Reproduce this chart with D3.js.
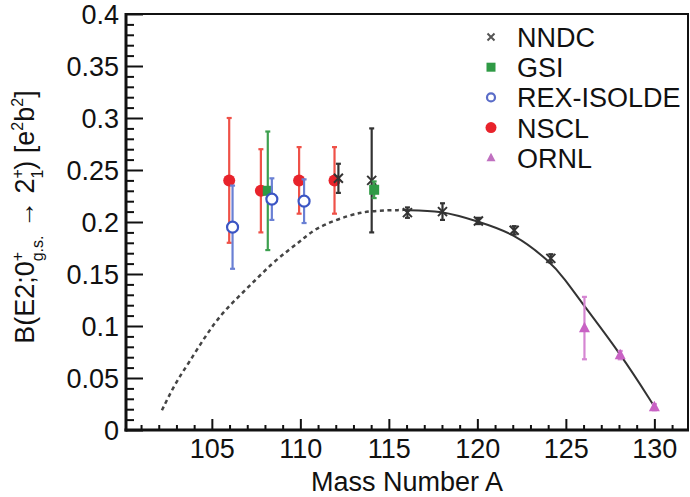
<!DOCTYPE html>
<meta charset="utf-8">
<style>
body { margin: 0; background: #fff; }
svg { display: block; }
text { font-family: "Liberation Sans", Arial, sans-serif; fill: #111; }
.axis text { font-size: 27px; }
.axis line { stroke: #111; stroke-width: 2; }
</style>
<body>
<div id="chart"><svg width="690" height="497"></svg></div>
<script src="https://cdn.jsdelivr.net/npm/d3@7"></script>
<script>

// measured points (mass number A, B(E2) in e2b2, error)
var nndcA   = [112.15, 114.03, 116.05, 118.03, 120.06, 122.08, 124.15];
var nndcB   = [0.242, 0.240, 0.209, 0.210, 0.201, 0.192, 0.165];
var nndcErr = [0.014, 0.050, 0.005, 0.008, 0.003, 0.004, 0.004];

var gsiA   = [108.16, 114.17];
var gsiB   = [0.230, 0.231];
var gsiErr = [0.057, 0.008];

var rexA   = [106.17, 108.39, 110.21];
var rexB   = [0.195, 0.222, 0.220];
var rexErr = [0.040, 0.020, 0.021];

var nsclA   = [105.98, 107.77, 109.93, 111.93];
var nsclB   = [0.240, 0.230, 0.240, 0.240];
var nsclErr = [0.060, 0.040, 0.032, 0.032];

var ornlA   = [126.05, 128.07, 130.0];
var ornlB   = [0.098, 0.072, 0.022];
var ornlErr = [0.030, 0.004, 0.003];

// calculation
var dashA = [102.18, 102.93, 103.68, 104.62, 105.56, 106.5, 107.45, 108.39, 109.33, 110.18, 110.93, 112.8, 114.0, 115.8];
var dashB = [0.019, 0.045, 0.064, 0.090, 0.112, 0.128, 0.144, 0.160, 0.173, 0.184, 0.195, 0.207, 0.211, 0.2115];
var solidA = [115.8, 118.0, 120.06, 122.08, 124.1, 124.9, 126.0, 128.07, 129.95, 130.0];
var solidB = [0.2115, 0.211, 0.2003, 0.189, 0.162, 0.146, 0.120, 0.0737, 0.024, 0.0224];

var xMajor = [105, 110, 115, 120, 125, 130];
var yMajor = [0, 0.05, 0.1, 0.15, 0.2, 0.25, 0.3, 0.35, 0.4];

var legendNames = ["NNDC", "GSI", "REX-ISOLDE", "NSCL", "ORNL"];

var pLeft = 126, pRight = 688, pTop = 14, pBottom = 430;

var svg = d3.select("#chart svg");

var x = d3.scaleLinear().domain([100.15, 131.9]).range([pLeft, pRight]);
var y = d3.scaleLinear().domain([0, 0.4]).range([pBottom, pTop]);

function zip(a, b, e) {
  return a.map(function(d, i) { return {a: d, b: b[i], e: e ? e[i] : 0}; });
}

// frame
svg.append("rect")
    .attr("x", pLeft).attr("y", pTop)
    .attr("width", pRight - pLeft).attr("height", pBottom - pTop)
    .attr("fill", "none").attr("stroke", "#111").attr("stroke-width", 2);

// x axis: minor + major ticks pointing inward
var xMinor = d3.range(101, 132).filter(function(d) { return d % 5 !== 0; });
svg.append("g").attr("class", "axis")
    .attr("transform", "translate(0," + pBottom + ")")
    .call(d3.axisBottom(x).tickValues(xMinor).tickSize(-5).tickFormat(""))
    .call(function(g) { g.select(".domain").remove(); });
svg.append("g").attr("class", "axis")
    .attr("transform", "translate(0," + pBottom + ")")
    .call(d3.axisBottom(x).tickValues(xMajor).tickSize(-11).tickPadding(9).tickFormat(d3.format("d")))
    .call(function(g) { g.select(".domain").remove(); });

// y axis
var yMinor = d3.range(1, 40).filter(function(d) { return d % 5 !== 0; }).map(function(d) { return d / 100; });
svg.append("g").attr("class", "axis")
    .attr("transform", "translate(" + pLeft + ",0)")
    .call(d3.axisLeft(y).tickValues(yMinor).tickSize(-8).tickFormat(""))
    .call(function(g) { g.select(".domain").remove(); });
svg.append("g").attr("class", "axis")
    .attr("transform", "translate(" + pLeft + ",0)")
    .call(d3.axisLeft(y).tickValues(yMajor).tickSize(-17).tickPadding(7)
      .tickFormat(function(d) { return d === 0 ? "0" : String(+d.toFixed(2)); }))
    .call(function(g) { g.select(".domain").remove(); g.selectAll("text").attr("dy", "0.34em"); });

svg.append("line").attr("x1", pLeft).attr("x2", pLeft).attr("y1", pTop - 1).attr("y2", pBottom + 1.5)
    .attr("stroke", "#111").attr("stroke-width", 3);
svg.append("line").attr("x1", pLeft - 1.5).attr("x2", pRight + 1).attr("y1", pBottom).attr("y2", pBottom)
    .attr("stroke", "#111").attr("stroke-width", 3);

// axis titles
svg.append("text")
    .attr("x", (pLeft + pRight) / 2).attr("y", 491)
    .attr("text-anchor", "middle").style("font-size", "27px")
    .text("Mass Number A");

var yl = svg.append("text")
    .attr("transform", "translate(34,217) rotate(-90)")
    .attr("text-anchor", "middle").style("font-size", "27px");
yl.append("tspan").text("B(E2;0");
yl.append("tspan").attr("dy", -11).style("font-size", "16px").text("+");
yl.append("tspan").attr("dx", -9.5).attr("dy", 20).style("font-size", "16px").text("g.s.");
yl.append("tspan").attr("dy", -9).text(" \u2192 2");
yl.append("tspan").attr("dy", -11).style("font-size", "16px").text("+");
yl.append("tspan").attr("dx", -9.5).attr("dy", 20).style("font-size", "16px").text("1");
yl.append("tspan").attr("dy", -9).text(") [e");
yl.append("tspan").attr("dy", -11).style("font-size", "16px").text("2");
yl.append("tspan").attr("dy", 11).text("b");
yl.append("tspan").attr("dy", -11).style("font-size", "16px").text("2");
yl.append("tspan").attr("dy", 11).text("]");

// curves
var line = d3.line()
    .x(function(d) { return x(d.a); })
    .y(function(d) { return y(d.b); })
    .curve(d3.curveBasis);

svg.append("path").datum(zip(dashA, dashB))
    .attr("d", line).attr("fill", "none")
    .attr("stroke", "#444").attr("stroke-width", 2.5).attr("stroke-dasharray", "4,3.5");
svg.append("path").datum(zip(solidA, solidB))
    .attr("d", line).attr("fill", "none")
    .attr("stroke", "#333").attr("stroke-width", 2);

// error bars + markers
function errBars(data, color, w) {
  var g = svg.append("g").attr("stroke", color).attr("stroke-width", w);
  data.forEach(function(d) {
    var cx = x(d.a);
    g.append("line").attr("x1", cx).attr("x2", cx).attr("y1", y(d.b - d.e)).attr("y2", y(d.b + d.e));
    [d.b - d.e, d.b + d.e].forEach(function(v) {
      g.append("line").attr("x1", cx - 2.5).attr("x2", cx + 2.5).attr("y1", y(v)).attr("y2", y(v));
    });
  });
  return g;
}

function marker(g, type, cx, cy, s, color) {
  if (type === "cross") {
    g.append("path")
      .attr("d", "M" + (cx - s) + "," + (cy - s) + "L" + (cx + s) + "," + (cy + s) +
                 "M" + (cx - s) + "," + (cy + s) + "L" + (cx + s) + "," + (cy - s))
      .attr("stroke", color).attr("stroke-width", 2).attr("fill", "none");
  } else if (type === "square") {
    g.append("rect").attr("x", cx - s).attr("y", cy - s).attr("width", 2 * s).attr("height", 2 * s)
      .attr("fill", color);
  } else if (type === "open") {
    g.append("circle").attr("cx", cx).attr("cy", cy).attr("r", s)
      .attr("fill", "#fff").attr("stroke", color).attr("stroke-width", 2.2);
  } else if (type === "dot") {
    g.append("circle").attr("cx", cx).attr("cy", cy).attr("r", s).attr("fill", color);
  } else if (type === "tri") {
    g.append("path")
      .attr("d", "M" + cx + "," + (cy - s * 1.15) + "L" + (cx + s) + "," + (cy + s * 0.75) + "L" + (cx - s) + "," + (cy + s * 0.75) + "Z")
      .attr("fill", color);
  }
}

var series = [
  {name: "NSCL", data: zip(nsclA, nsclB, nsclErr), color: "#e8232b", bar: "#ef5148", type: "dot", s: 6},
  {name: "NNDC", data: zip(nndcA, nndcB, nndcErr), color: "#333", bar: "#333", type: "cross", s: 4.5},
  {name: "GSI", data: zip(gsiA, gsiB, gsiErr), color: "#2f9a45", bar: "#3da04f", type: "square", s: 5},
  {name: "REX-ISOLDE", data: zip(rexA, rexB, rexErr), color: "#3b55c4", bar: "#6a80d4", type: "open", s: 5.5},
  {name: "ORNL", data: zip(ornlA, ornlB, ornlErr), color: "#c862c4", bar: "#d586d2", type: "tri", s: 5.5}
];

series.forEach(function(sr) {
  errBars(sr.data, sr.bar, 2.2);
  var g = svg.append("g");
  sr.data.forEach(function(d) { marker(g, sr.type, x(d.a), y(d.b), sr.s, sr.color); });
});

// legend
var legSym = {
  "NNDC": {type: "cross", s: 3.5, color: "#555"},
  "GSI": {type: "square", s: 4.5, color: "#2f9a45"},
  "REX-ISOLDE": {type: "open", s: 4, color: "#5a6cc8"},
  "NSCL": {type: "dot", s: 5.5, color: "#e8232b"},
  "ORNL": {type: "tri", s: 4.5, color: "#c070c0"}
};
var leg = svg.append("g");
legendNames.forEach(function(n, i) {
  var by = 47 + i * 30.2;
  var m = legSym[n];
  marker(leg, m.type, 491, by - 10, m.s, m.color);
  leg.append("text").attr("x", 517).attr("y", by).style("font-size", "27px").text(n);
});

</script>
</body>
